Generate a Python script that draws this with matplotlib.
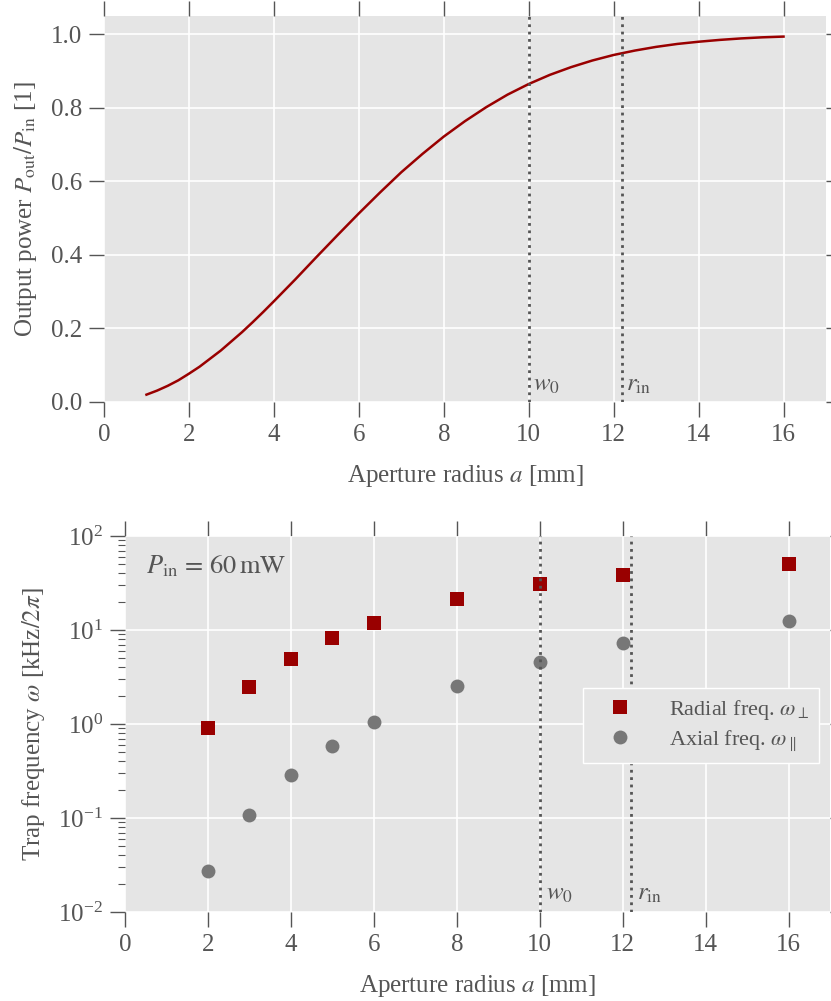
import numpy as np
import matplotlib
matplotlib.use('Agg')
import matplotlib.pyplot as plt

# transmitted power through the aperture
a_curve = [1.0, 1.25, 1.5, 1.75, 2.0, 2.25, 2.5, 2.75, 3.0, 3.25, 3.5, 3.75, 4.0,
           4.5, 5.0, 5.5, 6.0, 6.5, 7.0, 7.5, 8.0, 8.5, 9.0, 9.5, 10.0, 10.5,
           11.0, 11.5, 12.0, 12.5, 13.0, 13.5, 14.0, 14.5, 15.0, 15.5, 16.0]
p_curve = [0.020, 0.031, 0.044, 0.059, 0.077, 0.096, 0.118, 0.140, 0.165, 0.190,
           0.217, 0.245, 0.274, 0.333, 0.394, 0.454, 0.513, 0.570, 0.625, 0.675,
           0.722, 0.764, 0.802, 0.836, 0.865, 0.890, 0.911, 0.929, 0.944, 0.956,
           0.966, 0.974, 0.980, 0.985, 0.989, 0.992, 0.994]

# trap frequencies
a_pts = [2, 3, 4, 5, 6, 8, 10, 12, 16]
w_radial = [0.90, 2.46, 4.9, 8.2, 11.8, 21.3, 30.5, 38.4, 50.0]
w_axial = [0.027, 0.108, 0.29, 0.59, 1.06, 2.52, 4.6, 7.2, 12.5]

w0 = 10.0
r_in = 12.2

red = '#990000'
grey = '#777777'
txt = '#555555'

plt.rcParams['font.family'] = ['Liberation Serif', 'DejaVu Serif']
plt.rcParams['mathtext.fontset'] = 'stix'
plt.rcParams['font.size'] = 18
plt.rcParams['text.color'] = txt
plt.rcParams['axes.labelcolor'] = txt
plt.rcParams['xtick.color'] = txt
plt.rcParams['ytick.color'] = txt


def style(ax):
    ax.set_facecolor('#E5E5E5')
    for s in ax.spines.values():
        s.set_visible(False)
    ax.grid(True, color='white', linewidth=1.2)
    ax.set_axisbelow(True)
    ax.tick_params(which='major', direction='out', length=11, width=1,
                   top=True, right=True, labeltop=False, labelright=False,
                   labelsize=18, pad=5)
    ax.tick_params(which='minor', direction='out', length=5, width=0.8,
                   right=False)


fig = plt.figure(figsize=(8.31, 10.01), dpi=100)
ax1 = fig.add_axes([104 / 831, 1 - 402 / 1001, 722 / 831, 386 / 1001])
ax2 = fig.add_axes([125 / 831, 1 - 912 / 1001, 705 / 831, 376 / 1001])

# top panel
style(ax1)
ax1.plot(a_curve, p_curve, color=red, linewidth=1.8)
ax1.axvline(w0, color=txt, linestyle=':', linewidth=2)
ax1.axvline(r_in, color=txt, linestyle=':', linewidth=2)
ax1.text(w0 + 0.1, 0.03, r'$w_0$', fontsize=18)
ax1.text(r_in + 0.1, 0.03, r'$r_{\mathrm{in}}$', fontsize=18)
ax1.set_xlim(0, 17)
ax1.set_ylim(0, 1.05)
ax1.set_xticks(np.arange(0, 17, 2))
ax1.set_yticks(np.arange(0, 1.01, 0.2))
ax1.set_xlabel(r'Aperture radius $a$ [mm]', labelpad=12)
ax1.set_ylabel(r'Output power $P_{\mathrm{out}}/P_{\mathrm{in}}$ [1]', labelpad=8)

# bottom panel
style(ax2)
ax2.set_yscale('log')
ax2.plot(a_pts, w_radial, 's', color=red, markersize=10, markeredgewidth=0,
         label=r'Radial freq. $\omega_{\perp}$')
ax2.plot(a_pts, w_axial, 'o', color=grey, markersize=10, markeredgewidth=0,
         label=r'Axial freq. $\omega_{\parallel}$')
ax2.axvline(w0, color=txt, linestyle=':', linewidth=2)
ax2.axvline(r_in, color=txt, linestyle=':', linewidth=2)
ax2.text(w0 + 0.15, 0.0135, r'$w_0$', fontsize=18)
ax2.text(r_in + 0.15, 0.0135, r'$r_{\mathrm{in}}$', fontsize=18)
ax2.text(0.03, 0.955, r'$P_{\mathrm{in}}\,=\,60\,\mathrm{mW}$', transform=ax2.transAxes,
         fontsize=19, va='top', ha='left')
ax2.set_xlim(0, 17)
ax2.set_ylim(1e-2, 1e2)
ax2.set_xticks(np.arange(0, 17, 2))
ax2.set_xlabel(r'Aperture radius $a$ [mm]', labelpad=12)
ax2.set_ylabel(r'Trap frequency $\omega$ [kHz$/2\pi$]', labelpad=8)
leg = ax2.legend(loc='center right', bbox_to_anchor=(0.984, 0.497), numpoints=1,
                 handlelength=2.4, handletextpad=1.0, fontsize=16,
                 fancybox=False, facecolor='#E5E5E5', edgecolor='white',
                 framealpha=1, borderpad=0.45, labelspacing=0.3, borderaxespad=0)
for t in leg.get_texts():
    t.set_color(txt)

fig.savefig('out.png', dpi=100)
